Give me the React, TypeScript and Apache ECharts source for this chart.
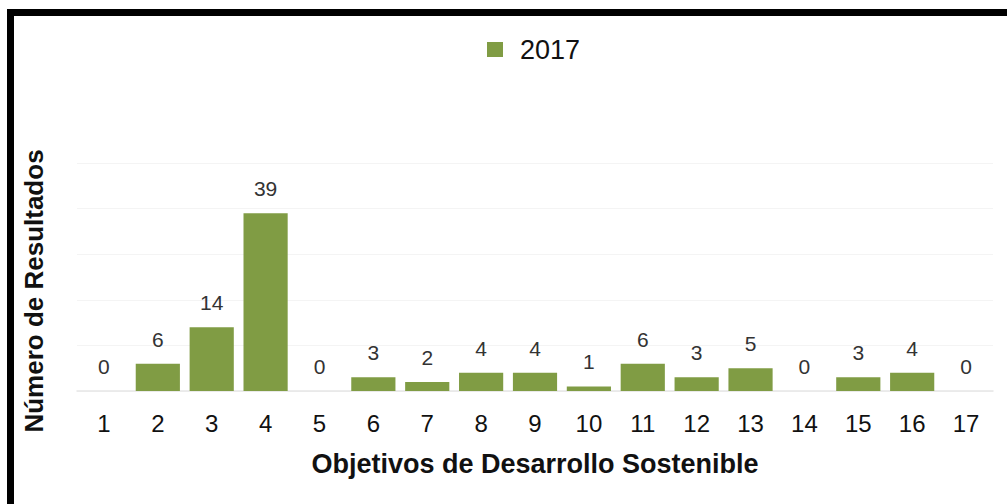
import React, { useEffect, useRef } from "react";
import * as echarts from "echarts";

const categories = ["1", "2", "3", "4", "5", "6", "7", "8", "9", "10", "11", "12", "13", "14", "15", "16", "17"];
const values2017 = [0, 6, 14, 39, 0, 3, 2, 4, 4, 1, 6, 3, 5, 0, 3, 4, 0];
const seriesName = "2017";
const xTitle = "Objetivos de Desarrollo Sostenible";
const yTitle = "Número de Resultados";

export default function App() {
  const ref = useRef<HTMLDivElement>(null);
  useEffect(() => {
    if (!ref.current) return;
    const chart = echarts.init(ref.current, null, { renderer: "svg" });
    const font = "'Liberation Sans', Arial, sans-serif";
    chart.setOption({
      animation: false,
      backgroundColor: "#ffffff",
      textStyle: { fontFamily: font },
      graphic: [
        {
          type: "rect",
          shape: { x: 10.5, y: 12.5, width: 1020, height: 520 },
          style: { fill: "none", stroke: "#000000", lineWidth: 7 },
          silent: true,
        },
        {
          type: "text",
          x: 34,
          y: 291,
          rotation: Math.PI / 2,
          style: {
            text: yTitle,
            fontSize: 26,
            fontWeight: "bold",
            fill: "#111111",
            fontFamily: font,
            align: "center",
            verticalAlign: "middle",
          },
          silent: true,
        },
      ],
      legend: {
        data: [seriesName],
        left: 487,
        top: 36,
        padding: 0,
        icon: "rect",
        itemWidth: 16,
        itemHeight: 15,
        itemGap: 10,
        textStyle: { fontSize: 27, color: "#111111", fontFamily: font, padding: [0, 0, 0, 12] },
      },
      grid: { left: 77, right: 14, top: 163, bottom: 113, containLabel: false },
      xAxis: {
        type: "category",
        data: categories,
        axisTick: { show: false },
        axisLine: { show: true, lineStyle: { color: "#e6e6e6", width: 1.5 } },
        axisLabel: { fontSize: 24, color: "#111111", margin: 20, fontFamily: font, interval: 0 },
        name: xTitle,
        nameLocation: "middle",
        nameGap: 59,
        nameTextStyle: { fontSize: 27, fontWeight: "bold", color: "#111111", fontFamily: font },
      },
      yAxis: {
        type: "value",
        min: 0,
        max: 50,
        interval: 10,
        axisLabel: { show: false },
        axisLine: { show: false },
        axisTick: { show: false },
        splitLine: { show: true, lineStyle: { color: "#f4f4f4", width: 1 } },
      },
      series: [
        {
          name: seriesName,
          type: "bar",
          data: values2017,
          barCategoryGap: "18%",
          itemStyle: { color: "#809c44" },
          label: {
            show: true,
            position: "top",
            distance: 14,
            fontSize: 21,
            color: "#333333",
            fontFamily: font,
          },
        },
      ],
    });
    return () => chart.dispose();
  }, []);
  return <div ref={ref} style={{ position: "fixed", left: 0, top: 0, width: 1007, height: 504 }} />;
}
